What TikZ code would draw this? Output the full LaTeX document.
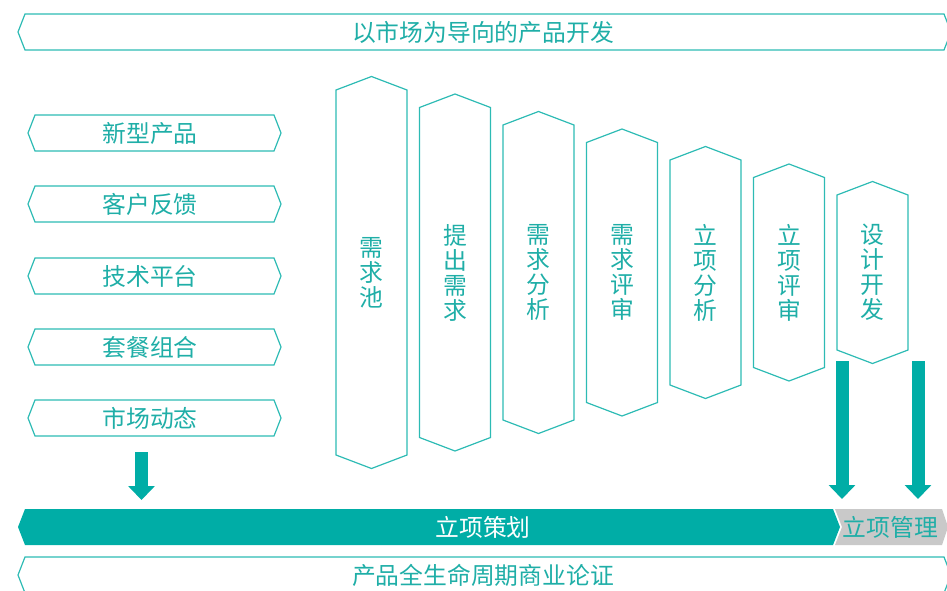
\documentclass[tikz,border=0pt]{standalone}
\usepackage{fontspec}
\newfontfamily\cjk{Noto Sans CJK SC}
\usetikzlibrary{arrows.meta}
\definecolor{tealline}{HTML}{2DBBB4}
\definecolor{tealfill}{HTML}{00ADA6}
\definecolor{tealtext}{HTML}{1FAEA7}
\definecolor{bargray}{HTML}{C9C9C9}

\begin{document}
\begin{tikzpicture}
  [x=1pt, y=-1pt,
   box line/.style={draw=tealline, line width=1.2pt, line join=miter},
   label text/.style={text=tealtext, font=\cjk\fontsize{23.8}{25}\selectfont, inner sep=0pt},
   fat arrow/.style={draw=tealfill, line width=13pt, -{Triangle[width=26pt,length=14pt]}}]

  \useasboundingbox (0,0) rectangle (947,590);
  \clip (0,0) rectangle (947,590);

  % top banner
  \draw [box line] (18,32) -- (25,14) -- (944,14) -- (951,32) -- (944,50) -- (25,50) -- cycle;
  \node [label text] (goal) at (483,32) {以市场为导向的产品开发};

  % inputs
  \foreach \y/\name/\txt in {133/newprod/新型产品, 204/feedback/客户反馈, 276/platform/技术平台, 347/package/套餐组合, 418/market/市场动态} {
    \draw [box line] (28,\y) -- (35,\y-18) -- (274,\y-18) -- (281,\y) -- (274,\y+18) -- (35,\y+18) -- cycle;
    \node [label text] (\name) at (150,\y) {\txt};
  }

  % phases
  \foreach \i/\txt in {0/需\\求\\池, 1/提\\出\\需\\求, 2/需\\求\\分\\析, 3/需\\求\\评\\审, 4/立\\项\\分\\析, 5/立\\项\\评\\审, 6/设\\计\\开\\发} {
    \pgfmathsetmacro\cx{371.5+83.5*\i}
    \pgfmathsetmacro\t{90+17.5*\i}
    \pgfmathsetmacro\b{455-17.5*\i}
    \draw [box line] (\cx-35.5,\t) -- (\cx,\t-13.5) -- (\cx+35.5,\t) -- (\cx+35.5,\b) -- (\cx,\b+13.5) -- (\cx-35.5,\b) -- cycle;
    \node [label text, align=center] (phase\i) at (\cx,272.5) {\txt};
  }

  % bars
  \fill [tealfill] (18,527) -- (25,509) -- (833,509) -- (840,527) -- (833,545) -- (25,545) -- cycle;
  \fill [bargray] (835,509) -- (942,509) -- (948,527) -- (942,545) -- (835,545) -- (842,527) -- cycle;
  \node [label text, text=white] (planning) at (483,527) {立项策划};
  \node [label text] (management) at (890.5,527) {立项管理};

  \draw [box line] (18,575) -- (25,557) -- (944,557) -- (951,575) -- (944,593) -- (25,593) -- cycle;
  \node [label text] (proof) at (483,575) {产品全生命周期商业论证};

  % arrows
  \coordinate (market out) at (141.5,452);
  \coordinate (planning in) at (141.5,500);
  \coordinate (design out a) at (842,361);
  \coordinate (design in a) at (842,499);
  \coordinate (design out b) at (918,361);
  \coordinate (design in b) at (918,499);
  \draw [fat arrow] (market out) -- (planning in);
  \draw [fat arrow] (design out a) -- (design in a);
  \draw [fat arrow] (design out b) -- (design in b);

\end{tikzpicture}
\end{document}
